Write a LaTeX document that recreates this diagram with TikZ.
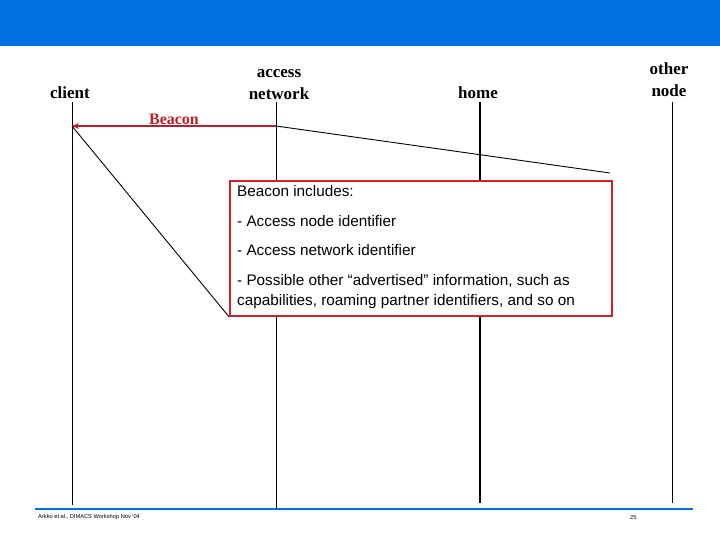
\documentclass[tikz,border=0pt]{standalone}
\usepackage{fontspec}
\setmainfont{Liberation Serif}
\newfontfamily\notefont{Liberation Sans}
\usetikzlibrary{arrows.meta}
\definecolor{slideblue}{RGB}{0,114,227}
\definecolor{beaconred}{RGB}{192,30,36}
\definecolor{boxred}{RGB}{214,32,38}
\begin{document}
\begin{tikzpicture}[x=1pt,y=-1pt,
  entity/.style = {font=\fontsize{17}{22}\selectfont\bfseries, align=center, anchor=base, inner sep=0pt},
  life/.style = {draw, line width=0.9pt},
  msg/.style = {draw=beaconred, line width=1.6pt, -{Stealth[length=7pt,width=6pt]}},
  callout/.style = {draw, line width=0.9pt},
  notebox/.style = {draw=boxred, fill=white, line width=1.8pt, minimum width=382pt, minimum height=135pt, anchor=north west, inner sep=0pt},
  footer/.style = {font=\notefont\fontsize{5.7}{6}\selectfont, anchor=base west, inner sep=0pt}]
  \useasboundingbox (0,0) rectangle (720,540);
  % slide frame
  \fill[slideblue] (0,0) rectangle (720,46);
  \draw[slideblue, line width=2.5pt] (35,509) -- (693,509);
  % entities
  \node[entity] (client) at (70,99) {client};
  \node[entity] (access) at (279,100) {access\\network};
  \node[entity] (home) at (478,99) {home};
  \node[entity] (other) at (669,97) {other\\node};
  % lifelines
  \coordinate (c1) at (72,102);  \coordinate (c2) at (72,505);
  \coordinate (a1) at (276,102); \coordinate (a2) at (276,509);
  \coordinate (h1) at (480,102); \coordinate (h2) at (480,503);
  \coordinate (o1) at (672,102); \coordinate (o2) at (672,503);
  \draw[life] (c1) -- (c2);
  \draw[life] (a1) -- (a2);
  \draw[life, line width=1.8pt] (h1) -- (h2);
  \draw[life] (o1) -- (o2);
  % beacon message
  \coordinate (bs) at (276,126);
  \coordinate (be) at (72,126);
  \draw[msg] (bs) -- (be) node[midway, above=-3pt, text=beaconred, font=\fontsize{16}{18}\selectfont\bfseries] (beacon) {Beacon};
  % note box
  \node[notebox] (note) at (229,180) {};
  \coordinate (tip) at (610,173);
  \node[anchor=north west, align=left, inner sep=0pt, font=\notefont\fontsize{15.3}{20}\selectfont] (notetext) at (237,185)
    {Beacon includes:\\[10pt]
     - Access node identifier\\[9.5pt]
     - Access network identifier\\[9.5pt]
     - Possible other “advertised” information, such as\\
     capabilities, roaming partner identifiers, and so on};
  \draw[callout] (be) -- (note.south west);
  \draw[callout] (bs) -- (tip);
  % footer
  \node[footer] (credit) at (38,518) {Arkko et al., DIMACS Workshop Nov '04};
  \node[footer] (page) at (630,519) {25};
\end{tikzpicture}
\end{document}
